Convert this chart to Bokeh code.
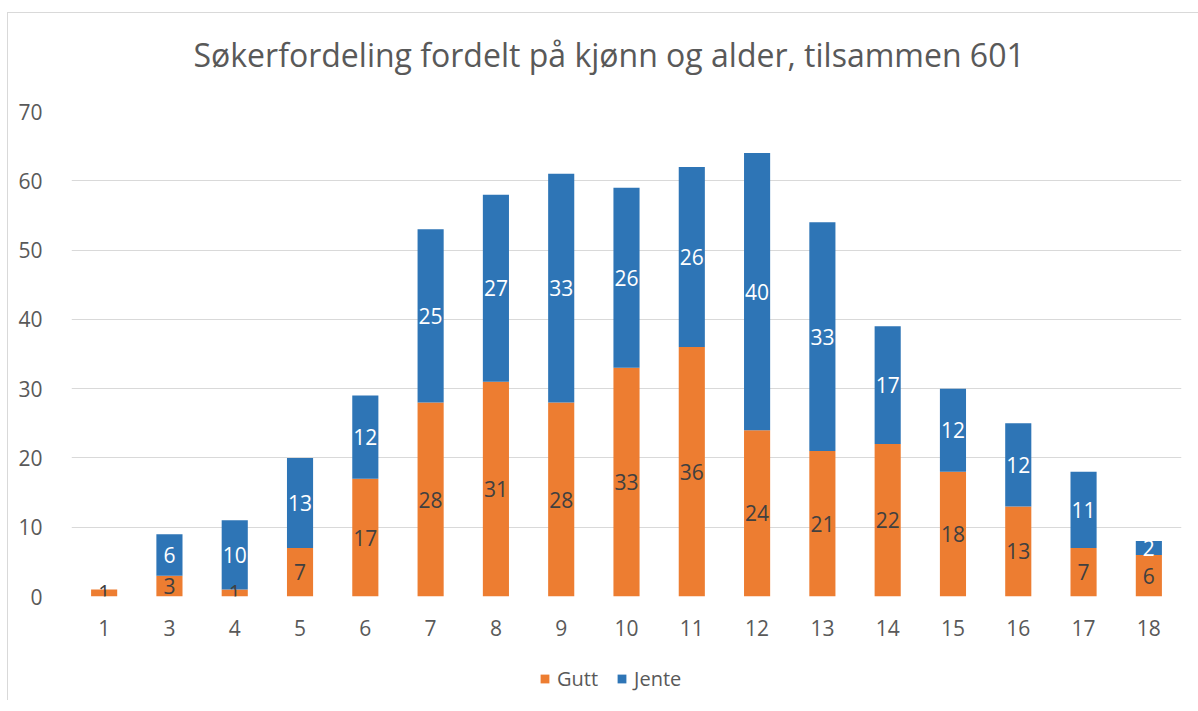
from bokeh.plotting import figure
from bokeh.layouts import column
from bokeh.models import (ColumnDataSource, Legend, LegendItem, Range1d, FactorRange,
                          SingleIntervalTicker, Title)
from bokeh.core.properties import value
from bokeh.embed import file_html
from bokeh.resources import INLINE

ages = ["1", "3", "4", "5", "6", "7", "8", "9", "10", "11", "12", "13", "14", "15", "16", "17", "18"]
gutt = [1, 3, 1, 7, 17, 28, 31, 28, 33, 36, 24, 21, 22, 18, 13, 7, 6]
jente = [0, 6, 10, 13, 12, 25, 27, 33, 26, 26, 40, 33, 17, 12, 12, 11, 2]
series = ["Gutt", "Jente"]
title_text = "Søkerfordeling fordelt på kjønn og alder, tilsammen 601"

FONT = "Open Sans"
GRAY = "#595959"
ORANGE = "#ED7D31"
BLUE = "#2E75B6"
FS = "21px"

src = ColumnDataSource(dict(age=ages, Gutt=gutt, Jente=jente))

p = figure(x_range=FactorRange(*ages, range_padding=0.0), y_range=Range1d(0, 70),
           width=1190, height=647, output_backend="svg", toolbar_location=None,
           min_border_left=63, min_border_right=17, min_border_top=98, min_border_bottom=64)
p.title = None

r = p.vbar_stack(series, x="age", width=0.4, source=src,
                 color=[ORANGE, BLUE], line_color=None)

# data labels in the middle of each segment
g_mid = [g / 2 for g in gutt]
j_mid = [g + j / 2 for g, j in zip(gutt, jente)]
lab_g = ColumnDataSource(dict(x=ages, y=g_mid, t=[str(v) for v in gutt]))
jx = [a for a, j in zip(ages, jente) if j > 0]
jy = [m for m, j in zip(j_mid, jente) if j > 0]
jt = [str(j) for j in jente if j > 0]
lab_j = ColumnDataSource(dict(x=jx, y=jy, t=jt))
p.text(x="x", y="y", text="t", source=lab_g, text_align="center", text_baseline="middle",
       text_color="#404040", text_font=value(FONT), text_font_size=FS)
p.text(x="x", y="y", text="t", source=lab_j, text_align="center", text_baseline="middle",
       text_color="white", text_font=value(FONT), text_font_size=FS)

# spacer title (nearest the frame), then the real title above it
p.add_layout(Title(text=" ", text_font_size="17px"), "above")
p.add_layout(Title(text=title_text, align="left", text_font=FONT, text_font_size="32px",
                   text_font_style="normal", text_color=GRAY, offset=122), "above")

p.xgrid.grid_line_color = None
p.ygrid.grid_line_color = "#d9d9d9"
p.ygrid.grid_line_width = 1
p.yaxis.ticker = SingleIntervalTicker(interval=10)
for ax in (p.xaxis[0], p.yaxis[0]):
    ax.axis_line_color = None
    ax.major_tick_line_color = None
    ax.minor_tick_line_color = None
    ax.major_label_text_font = FONT
    ax.major_label_text_font_size = FS
    ax.major_label_text_color = GRAY
p.xaxis.major_label_standoff = 17
p.yaxis.major_label_standoff = 23
p.outline_line_color = None

# legend strip below the chart
lp = figure(width=1190, height=40, output_backend="svg", toolbar_location=None,
            x_range=Range1d(0, 1), y_range=Range1d(0, 1),
            min_border_left=63, min_border_right=17, min_border_top=0, min_border_bottom=0)
lp.title = None
lp.axis.visible = False
lp.grid.grid_line_color = None
lp.outline_line_color = None
hidden = ColumnDataSource(dict(x=[-10], top=[-10]))
lr = [lp.vbar(x="x", top="top", width=0.1, source=hidden, color=c, line_color=None)
      for c in (ORANGE, BLUE)]
legend = Legend(items=[LegendItem(label=s, renderers=[rr]) for s, rr in zip(series, lr)],
                orientation="horizontal", location=(468, 8),
                label_text_font=FONT, label_text_font_size="20px", label_text_color=GRAY,
                glyph_width=11, glyph_height=11, spacing=18, border_line_color=None,
                background_fill_alpha=0, margin=0, padding=0, label_standoff=7)
lp.add_layout(legend, "center")

layout = column(p, lp, spacing=0,
                styles={"margin-left": "7px", "margin-top": "12px",
                        "border-left": "1px solid #d9d9d9", "border-top": "1px solid #d9d9d9"})

open("out.html", "w").write(file_html(layout, INLINE))
